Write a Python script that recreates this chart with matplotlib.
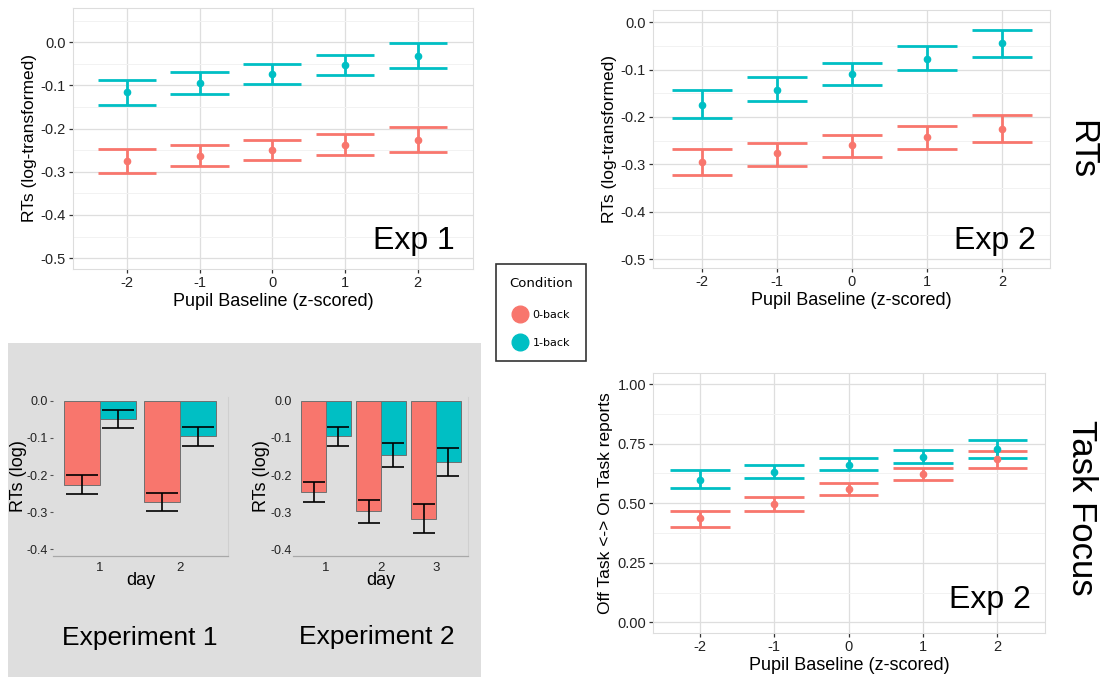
import matplotlib
matplotlib.use('Agg')
import matplotlib.pyplot as plt
import numpy as np
from matplotlib.lines import Line2D

plt.rcParams['font.family'] = ['Liberation Sans', 'DejaVu Sans']

RED = '#F8766D'
CYAN = '#00BFC4'

# ---------------- data ----------------
pupil = [-2, -1, 0, 1, 2]

# Exp 1 RTs
e1_0_mean = [-0.275, -0.263, -0.250, -0.237, -0.226]
e1_0_hi = [-0.247, -0.239, -0.227, -0.213, -0.197]
e1_0_lo = [-0.302, -0.287, -0.273, -0.262, -0.254]
e1_1_mean = [-0.116, -0.095, -0.074, -0.053, -0.032]
e1_1_hi = [-0.087, -0.070, -0.051, -0.029, -0.003]
e1_1_lo = [-0.146, -0.120, -0.097, -0.077, -0.061]

# Exp 2 RTs
e2_0_mean = [-0.296, -0.277, -0.260, -0.242, -0.225]
e2_0_hi = [-0.268, -0.254, -0.237, -0.218, -0.196]
e2_0_lo = [-0.323, -0.303, -0.284, -0.268, -0.252]
e2_1_mean = [-0.174, -0.142, -0.109, -0.077, -0.044]
e2_1_hi = [-0.144, -0.115, -0.085, -0.051, -0.016]
e2_1_lo = [-0.203, -0.166, -0.133, -0.101, -0.073]

# Exp 2 task focus
tf_0_mean = [0.436, 0.497, 0.559, 0.622, 0.685]
tf_0_hi = [0.469, 0.525, 0.584, 0.650, 0.720]
tf_0_lo = [0.401, 0.469, 0.536, 0.597, 0.650]
tf_1_mean = [0.598, 0.630, 0.662, 0.693, 0.727]
tf_1_hi = [0.639, 0.660, 0.688, 0.723, 0.765]
tf_1_lo = [0.562, 0.604, 0.640, 0.668, 0.690]

# Bar charts by day
days1 = [1, 2]
b1_0 = [-0.226, -0.273]
b1_0_hi = [-0.201, -0.249]
b1_0_lo = [-0.251, -0.297]
b1_1 = [-0.049, -0.096]
b1_1_hi = [-0.024, -0.072]
b1_1_lo = [-0.074, -0.121]

days2 = [1, 2, 3]
b2_0 = [-0.246, -0.297, -0.318]
b2_0_hi = [-0.219, -0.266, -0.278]
b2_0_lo = [-0.272, -0.328, -0.355]
b2_1 = [-0.096, -0.146, -0.166]
b2_1_hi = [-0.071, -0.113, -0.127]
b2_1_lo = [-0.122, -0.179, -0.203]

rt_ticks = [0.0, -0.1, -0.2, -0.3, -0.4, -0.5]
rt_ticklabels = ['0.0', '-0.1', '-0.2', '-0.3', '-0.4', '-0.5']
tf_ticks = [0.0, 0.25, 0.5, 0.75, 1.0]
tf_ticklabels = ['0.00', '0.25', '0.50', '0.75', '1.00']
bar_ticks = [0.0, -0.1, -0.2, -0.3, -0.4]
bar_ticklabels = ['0.0', '-0.1', '-0.2', '-0.3', '-0.4']

W, H = 1106, 683
fig = plt.figure(figsize=(W / 100, H / 100), dpi=100)
fig.patch.set_facecolor('white')


def px_axes(x0, y0, x1, y1, **kw):
    return fig.add_axes([x0 / W, 1 - y1 / H, (x1 - x0) / W, (y1 - y0) / H], **kw)


# gray background box (drawn first, lowest zorder)
axbg = px_axes(8, 343, 481, 677)
axbg.set_facecolor('#DEDEDE')
axbg.set_xticks([])
axbg.set_yticks([])
for s in axbg.spines.values():
    s.set_visible(False)
axbg.set_zorder(0)


def gg_panel(ax, xlim, ylim, yticks, yticklabels, minor, ylabel, xlabel):
    ax.set_xlim(*xlim)
    ax.set_ylim(*ylim)
    ax.set_xticks(pupil)
    ax.set_xticklabels([str(p) for p in pupil])
    ax.set_yticks(yticks)
    ax.set_yticklabels(yticklabels)
    ax.set_yticks(minor, minor=True)
    ax.grid(which='major', color='#DEDEDE', lw=0.9)
    ax.grid(which='minor', axis='y', color='#F2F2F2', lw=0.7)
    ax.set_axisbelow(True)
    for s in ax.spines.values():
        s.set_color('#DDDDDD')
        s.set_linewidth(0.8)
    ax.tick_params(which='major', length=3, width=0.9, color='#333333',
                   labelsize=10.5, labelcolor='#222222', pad=2)
    ax.tick_params(which='minor', length=0)
    ax.set_ylabel(ylabel, fontsize=12.5, labelpad=3)
    ax.set_xlabel(xlabel, fontsize=13, labelpad=2)


def draw_err(ax, x, mean, lo, hi, color):
    ax.vlines(x, lo, hi, color=color, lw=2.0, zorder=3)
    xs = np.array(x, dtype=float)
    ax.hlines(hi, xs - 0.4, xs + 0.4, color=color, lw=2.0, zorder=3)
    ax.hlines(lo, xs - 0.4, xs + 0.4, color=color, lw=2.0, zorder=3)
    ax.plot(x, mean, 'o', color=color, ms=4.5, zorder=4)


# ---- Panel 1: Exp 1 RTs ----
ax1 = px_axes(73, 8, 473, 269)
gg_panel(ax1, (-2.74, 2.76), (-0.525, 0.079), rt_ticks, rt_ticklabels,
         [0.05, -0.05, -0.15, -0.25, -0.35, -0.45],
         'RTs (log-transformed)', 'Pupil Baseline (z-scored)')
draw_err(ax1, pupil, e1_0_mean, e1_0_lo, e1_0_hi, RED)
draw_err(ax1, pupil, e1_1_mean, e1_1_lo, e1_1_hi, CYAN)
ax1.text(0.955, 0.075, 'Exp 1', transform=ax1.transAxes, ha='right', va='baseline',
         fontsize=23)

# ---- Panel 2: Exp 2 RTs ----
ax2 = px_axes(653, 10, 1050, 268)
gg_panel(ax2, (-2.65, 2.64), (-0.519, 0.026), rt_ticks, rt_ticklabels,
         [-0.05, -0.15, -0.25, -0.35, -0.45],
         'RTs (log-transformed)', 'Pupil Baseline (z-scored)')
draw_err(ax2, pupil, e2_0_mean, e2_0_lo, e2_0_hi, RED)
draw_err(ax2, pupil, e2_1_mean, e2_1_lo, e2_1_hi, CYAN)
ax2.text(0.965, 0.075, 'Exp 2', transform=ax2.transAxes, ha='right', va='baseline',
         fontsize=23)
fig.text(1082 / W, 1 - 150 / H, 'RTs', rotation=-90, ha='center', va='center',
         fontsize=25)

# ---- Panel 4: Task focus ----
ax4 = px_axes(653, 373, 1045, 633)
gg_panel(ax4, (-2.63, 2.64), (-0.045, 1.047), tf_ticks, tf_ticklabels,
         [0.125, 0.375, 0.625, 0.875],
         'Off Task <-> On Task reports', 'Pupil Baseline (z-scored)')
draw_err(ax4, pupil, tf_0_mean, tf_0_lo, tf_0_hi, RED)
draw_err(ax4, pupil, tf_1_mean, tf_1_lo, tf_1_hi, CYAN)
ax4.text(0.965, 0.095, 'Exp 2', transform=ax4.transAxes, ha='right', va='baseline',
         fontsize=23)
fig.text(1082 / W, 1 - 508 / H, 'Task Focus', rotation=-90, ha='center',
         va='center', fontsize=25)

# ---- Legend ----
leg_handles = [Line2D([0], [0], marker='o', color='none', markerfacecolor=RED,
                      markeredgecolor=RED, markersize=12, label='0-back'),
               Line2D([0], [0], marker='o', color='none', markerfacecolor=CYAN,
                      markeredgecolor=CYAN, markersize=12, label='1-back')]
leg = fig.legend(handles=leg_handles, title='Condition',
                 loc='upper left', bbox_to_anchor=(496 / W, 1 - 264 / H),
                 frameon=True, fancybox=False, edgecolor='black',
                 prop={'family': 'DejaVu Sans', 'size': 8},
                 title_fontproperties={'family': 'DejaVu Sans', 'size': 9.5},
                 handletextpad=0.5, labelspacing=1.6, borderpad=1.2,
                 handlelength=1.3, borderaxespad=0)
leg.get_frame().set_linewidth(1.2)
leg._legend_box.sep = 14


def bar_panel(ax, days, v0, lo0, hi0, v1, lo1, hi1, xlim, show_ticks):
    d = np.array(days, dtype=float)
    bw = 0.45
    ax.set_facecolor('none')
    ax.bar(d - bw / 2, v0, width=bw, color=RED, edgecolor='#707070', lw=0.7, zorder=2)
    ax.bar(d + bw / 2, v1, width=bw, color=CYAN, edgecolor='#707070', lw=0.7, zorder=2)
    for xs, lo, hi in ((d - bw / 2, lo0, hi0), (d + bw / 2, lo1, hi1)):
        ax.vlines(xs, lo, hi, color='black', lw=1.2, zorder=3)
        ax.hlines(lo, xs - 0.2, xs + 0.2, color='black', lw=1.2, zorder=3)
        ax.hlines(hi, xs - 0.2, xs + 0.2, color='black', lw=1.2, zorder=3)
    ax.set_xlim(*xlim)
    ax.set_ylim(-0.418, 0.01)
    ax.set_xticks(days)
    ax.set_xticklabels([str(x) for x in days])
    ax.set_yticks(bar_ticks)
    ax.set_yticklabels(bar_ticklabels)
    ax.spines['left'].set_visible(False)
    ax.spines['top'].set_visible(False)
    ax.spines['bottom'].set_color('#A8A8A8')
    ax.spines['right'].set_color('#CFCFCF')
    ax.spines['bottom'].set_linewidth(0.9)
    ax.spines['right'].set_linewidth(0.8)
    ax.tick_params(axis='y', length=2.5 if show_ticks else 0, color='#555555',
                   labelsize=9, labelcolor='#222222', pad=1)
    ax.tick_params(axis='x', length=0, labelsize=9.5, labelcolor='#222222', pad=4)
    ax.set_xlabel('day', fontsize=13, labelpad=-1)
    ax.set_ylabel('RTs (log)', fontsize=13, labelpad=0)


axb1 = px_axes(53, 397, 228, 556)
axb1.set_zorder(2)
bar_panel(axb1, days1, b1_0, b1_0_lo, b1_0_hi, b1_1, b1_1_lo, b1_1_hi,
          (0.41, 2.6), True)
axb2 = px_axes(293, 397, 468, 556)
axb2.set_zorder(2)
bar_panel(axb2, days2, b2_0, b2_0_lo, b2_0_hi, b2_1, b2_1_lo, b2_1_hi,
          (0.4, 3.58), False)

axbg.text(140 / W, 1 - 638 / H, 'Experiment 1', ha='center', va='center',
          fontsize=19, transform=fig.transFigure)
axbg.text(377 / W, 1 - 637 / H, 'Experiment 2', ha='center', va='center',
          fontsize=19, transform=fig.transFigure)

fig.savefig('out.png', dpi=100)
